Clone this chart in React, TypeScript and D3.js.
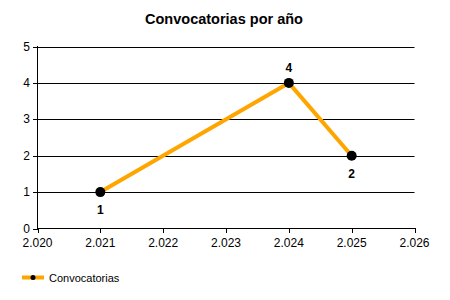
import React from "react";
import * as d3 from "d3";

const years = [2021, 2024, 2025];
const counts = [1, 4, 2];
const xTicks = [2020, 2021, 2022, 2023, 2024, 2025, 2026];
const yTicks = [0, 1, 2, 3, 4, 5];
const labelBelow = [true, false, true];
const title = "Convocatorias por año";
const seriesName = "Convocatorias";

export default function App() {
  const W = 450, H = 300;
  const x = d3.scaleLinear().domain([2020, 2026]).range([37.5, 414.5]);
  const y = d3.scaleLinear().domain([0, 5]).range([228.5, 46.5]);
  const fmt = (v: number) => (v / 1000).toFixed(3);
  const line = d3.line<number>().x((_, i) => x(years[i])).y((d) => y(d));
  const font = "Liberation Sans, Arial, sans-serif";
  return (
    <svg width={W} height={H} style={{ position: "absolute", left: 0, top: 0, background: "#fff" }} fontFamily={font}>
      <rect width={W} height={H} fill="#fff" />
      <text x={224} y={23.5} textAnchor="middle" fontSize={14.5} fontWeight="bold" fill="#000">{title}</text>
      {yTicks.filter((t) => t > 0).map((t) => (
        <line key={"g" + t} x1={x(2020)} x2={x(2026)} y1={Math.round(y(t)) + 0.5} y2={Math.round(y(t)) + 0.5} stroke="#000" strokeWidth={1} />
      ))}
      {yTicks.map((t) => (
        <g key={"y" + t}>
          <line x1={33} x2={38} y1={Math.round(y(t)) + 0.5} y2={Math.round(y(t)) + 0.5} stroke="#000" />
          <text x={30} y={y(t) + 4} textAnchor="end" fontSize={12} fill="#000">{t}</text>
        </g>
      ))}
      {xTicks.map((t) => (
        <g key={"x" + t}>
          <line x1={Math.round(x(t)) + 0.5} x2={Math.round(x(t)) + 0.5} y1={228} y2={233} stroke="#000" />
          <text x={x(t)} y={247} textAnchor="middle" fontSize={12} fill="#000">{fmt(t)}</text>
        </g>
      ))}
      <line x1={37.5} x2={37.5} y1={46} y2={229} stroke="#000" />
      <line x1={37} x2={415} y1={228.5} y2={228.5} stroke="#000" />
      <path d={line(counts) || ""} fill="none" stroke="#FFA500" strokeWidth={4} strokeLinejoin="round" />
      {counts.map((c, i) => (
        <g key={"p" + i}>
          <circle cx={x(years[i])} cy={y(c)} r={5} fill="#000" />
          <text x={x(years[i])} y={labelBelow[i] ? y(c) + 22 : y(c) - 11} textAnchor="middle" fontSize={12} fontWeight="bold" fill="#000">{c}</text>
        </g>
      ))}
      <line x1={22} x2={44} y1={277.5} y2={277.5} stroke="#FFA500" strokeWidth={4} />
      <circle cx={33} cy={277.5} r={2.5} fill="#000" />
      <text x={49} y={281.5} fontSize={11} fill="#000">{seriesName}</text>
    </svg>
  );
}
